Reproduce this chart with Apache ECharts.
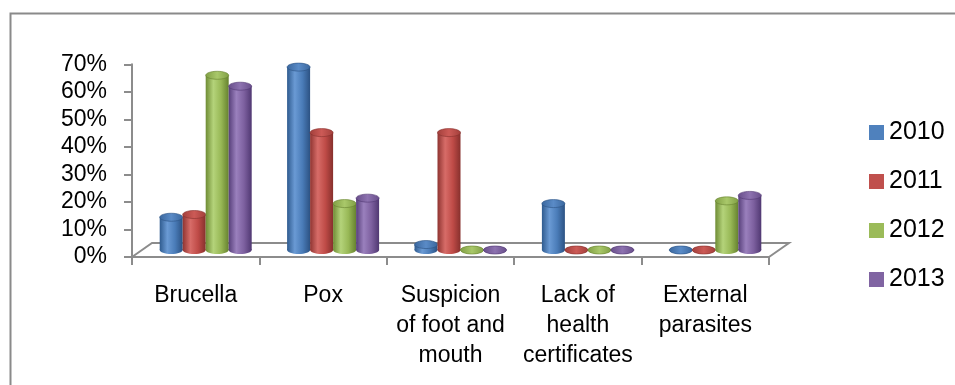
<!DOCTYPE html>
<html>
<head>
<meta charset="utf-8">
<script src="https://cdn.jsdelivr.net/npm/echarts@6/dist/echarts.min.js"></script>
<style>
  html, body { margin: 0; padding: 0; background: #fff; }
  #chart { width: 955px; height: 385px; }
</style>
</head>
<body>
<div id="chart"></div>
<script>
// Categories and yearly shares (percent)
var categories = ['Brucella', 'Pox', 'Suspicion\nof foot and\nmouth', 'Lack of\nhealth\ncertificates', 'External\nparasites'];
var years = ['2010', '2011', '2012', '2013'];
var values2010 = [12, 67, 2, 17, 0];
var values2011 = [13, 43, 43, 0, 0];
var values2012 = [64, 17, 0, 0, 18];
var values2013 = [60, 19, 0, 0, 20];
var yTicks = { min: 0, max: 70, interval: 10 };

var seriesValues = [values2010, values2011, values2012, values2013];
var baseColors = ['#4F81BD', '#C0504D', '#9BBB59', '#8064A2'];
// cylinder shading: dark edge, light highlight, mid, dark edge
var shades = [
  ['#2f5b8f', '#6a9ad4', '#4a7cb8', '#2c5283'],
  ['#8f3431', '#d76c68', '#bf4b47', '#87302d'],
  ['#6f8c35', '#b4d37a', '#98b856', '#66822f'],
  ['#573f7a', '#9a80bd', '#7d609f', '#503872']
];
var capShades = [
  ['#3a679e', '#5a8bc7', '#3a679e'],
  ['#a23f3b', '#cc5a56', '#a23f3b'],
  ['#809f44', '#a9c86a', '#809f44'],
  ['#684e8a', '#8d72b0', '#684e8a']
];

var FONT = 'Liberation Sans';
var W = 955, H = 385;
// front axes frame
var axLeft = 132, axRight = 769, axTop = 64.3, axBottom = 257;
// depth offset of the floor (3D look)
var depthX = 20, depthY = 14;
var barW = 23, capH = 8;

function hGrad(stops) {
  var n = stops.length;
  return new echarts.graphic.LinearGradient(0, 0, 1, 0, stops.map(function (c, i) {
    return { offset: i / (n - 1), color: c };
  }));
}

// one cylinder per data item: bottom ellipse, body, top ellipse
function cylinderRenderer(seriesIdx) {
  return function (params, api) {
    var cat = api.value(0);
    var val = api.value(1);
    var top = api.coord([cat, val]);
    var base = api.coord([cat, 0]);
    var cx = base[0] + (seriesIdx - (years.length - 1) / 2) * barW;
    var x0 = cx - barW / 2;
    var bodyFill = hGrad(shades[seriesIdx]);
    var children = [
      {
        type: 'ellipse',
        shape: { cx: cx, cy: base[1], rx: barW / 2, ry: capH / 2 },
        style: { fill: bodyFill }
      }
    ];
    if (base[1] - top[1] > 0.5) {
      children.push({
        type: 'rect',
        shape: { x: x0, y: top[1], width: barW, height: base[1] - top[1] },
        style: { fill: bodyFill }
      });
    }
    children.push({
      type: 'ellipse',
      shape: { cx: cx, cy: top[1], rx: barW / 2, ry: capH / 2 },
      style: { fill: hGrad(capShades[seriesIdx]), stroke: shades[seriesIdx][3], lineWidth: 0.6 }
    });
    return { type: 'group', children: children };
  };
}

var chart = echarts.init(document.getElementById('chart'), null, { renderer: 'canvas' });

var series = years.map(function (y, i) {
  return {
    name: y, type: 'custom', xAxisIndex: 1, yAxisIndex: 1,
    renderItem: cylinderRenderer(i),
    encode: { x: 0, y: 1 },
    itemStyle: { color: baseColors[i] },
    data: seriesValues[i].map(function (v, k) { return [k, v]; }),
    z: 3
  };
});

var axisGray = '#8c8c8c';

var option = {
  animation: false,
  textStyle: { fontFamily: FONT },
  legend: {
    orient: 'vertical', left: 864, top: 115,
    itemWidth: 15, itemHeight: 15, itemGap: 24, icon: 'rect',
    textStyle: { fontSize: 25, lineHeight: 24, color: '#000', fontFamily: FONT },
    data: years.map(function (y, i) { return { name: y, itemStyle: { color: baseColors[i] } }; })
  },
  grid: [
    { left: axLeft, right: W - axRight, top: axTop, bottom: H - axBottom },
    { left: axLeft + 10, right: W - axRight - 10, top: 58.9, bottom: H - 250 }
  ],
  xAxis: [
    {
      type: 'category', gridIndex: 0, data: categories,
      axisLine: { lineStyle: { color: axisGray, width: 2 } },
      axisTick: { show: true, length: 8, lineStyle: { color: axisGray, width: 2 } },
      axisLabel: { interval: 0, fontSize: 23, lineHeight: 30, color: '#000', margin: 24, fontFamily: FONT }
    },
    { type: 'category', gridIndex: 1, data: categories, show: false }
  ],
  yAxis: [
    {
      type: 'value', gridIndex: 0, min: yTicks.min, max: yTicks.max, interval: yTicks.interval,
      axisLine: { show: true, lineStyle: { color: axisGray, width: 2 } },
      axisTick: { show: true, length: 8, lineStyle: { color: axisGray, width: 2 } },
      splitLine: { show: false },
      axisLabel: { formatter: '{value}%', fontSize: 23, color: '#000', margin: 25, padding: [4, 0, 0, 0], fontFamily: FONT }
    },
    { type: 'value', gridIndex: 1, min: yTicks.min, max: yTicks.max, interval: yTicks.interval, show: false, splitLine: { show: false } }
  ],
  graphic: [
    {
      type: 'rect', silent: true, z: -10,
      shape: { x: 10.5, y: 13.5, width: W + 20, height: H + 20 },
      style: { fill: 'none', stroke: '#8a8a8a', lineWidth: 2 }
    },
    {
      type: 'polyline', silent: true, z: 0,
      shape: { points: [[axLeft, axBottom], [axLeft + depthX, axBottom - depthY], [axRight + depthX, axBottom - depthY], [axRight, axBottom]] },
      style: { fill: 'none', stroke: axisGray, lineWidth: 2 }
    }
  ],
  series: series
};

chart.setOption(option);
</script>
</body>
</html>
